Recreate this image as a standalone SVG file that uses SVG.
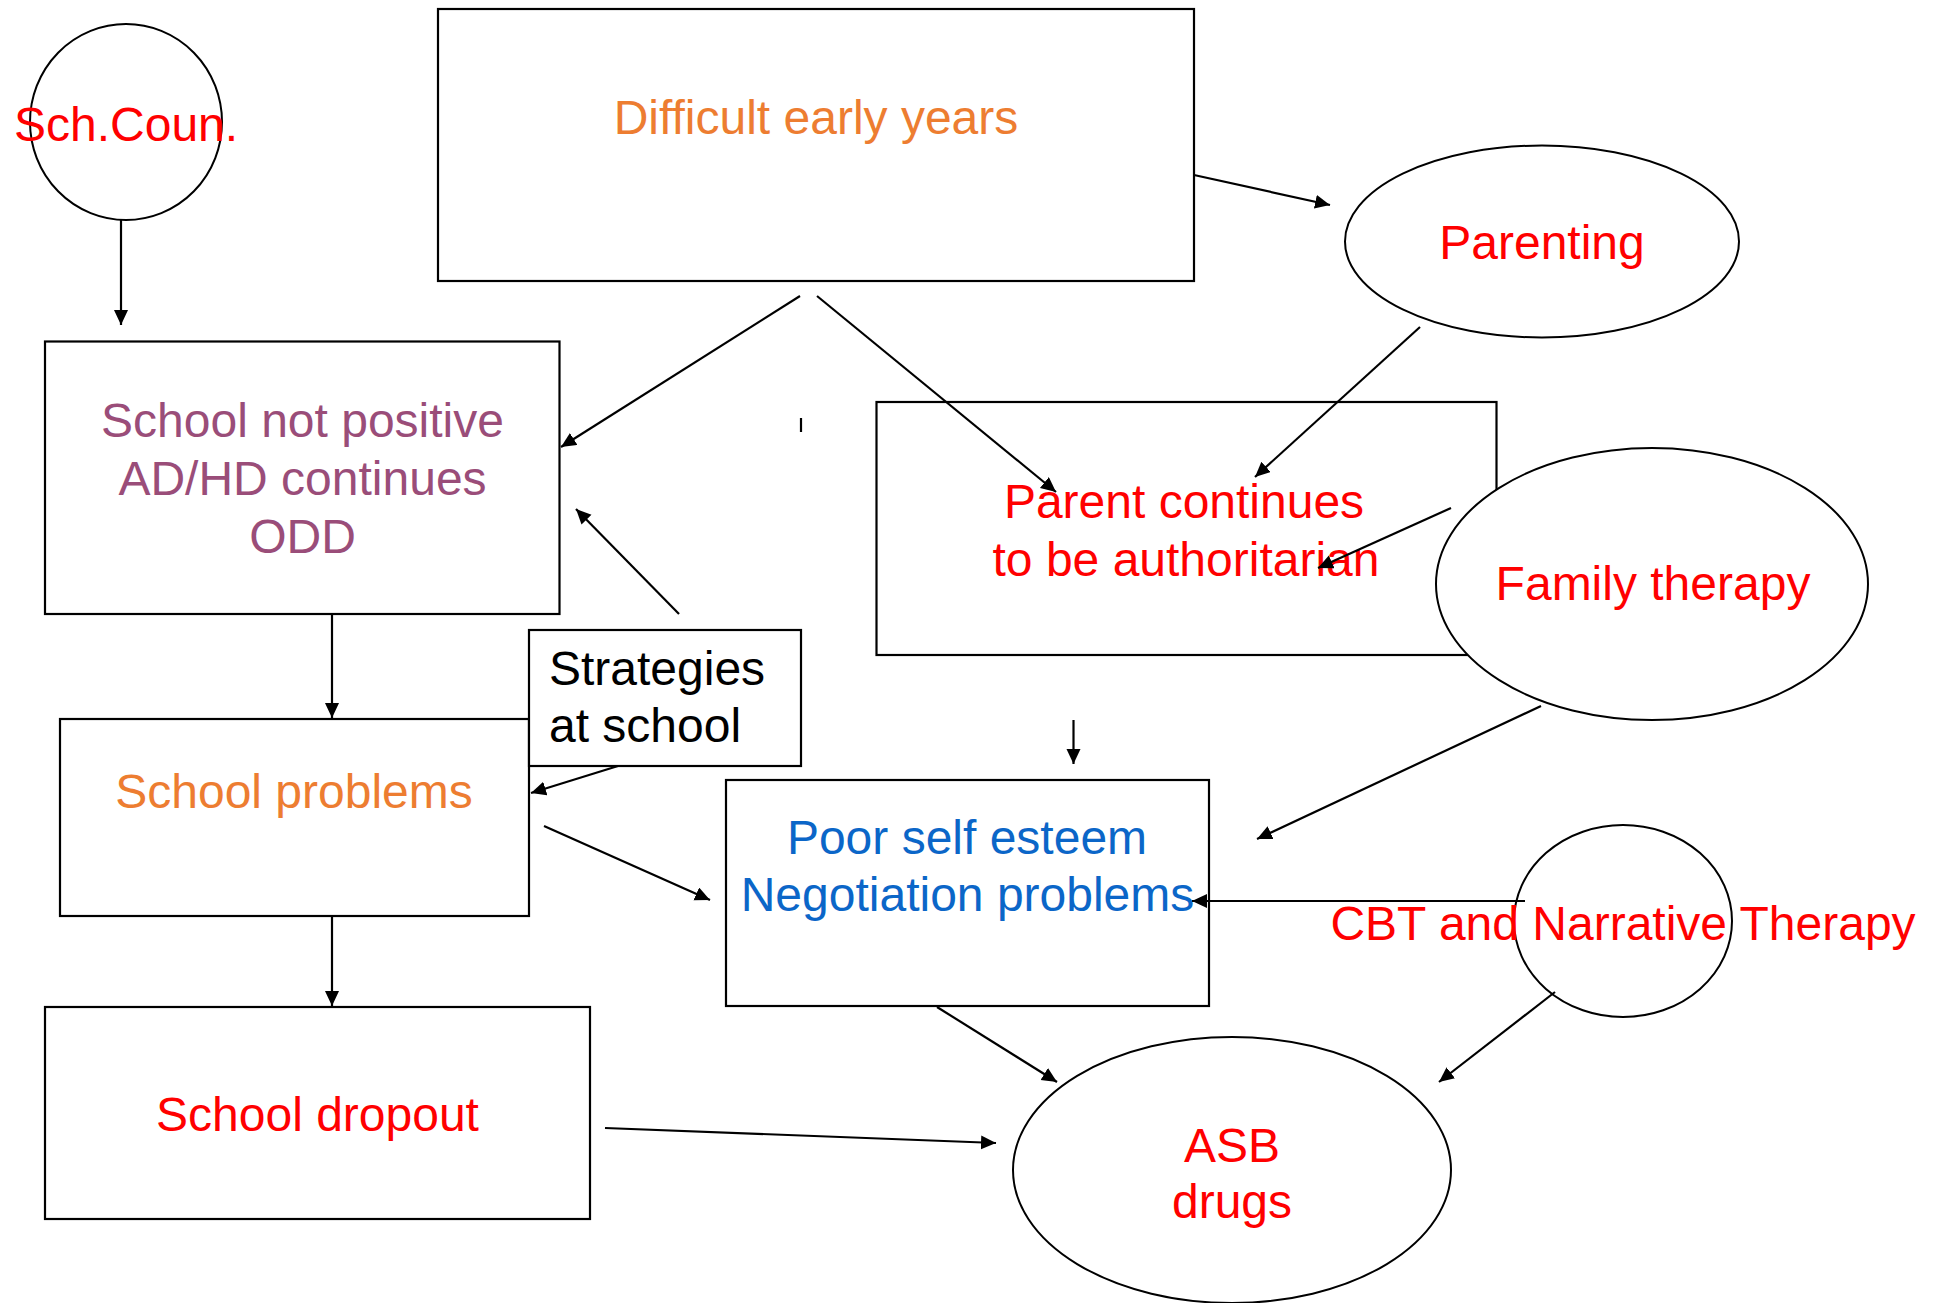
<svg xmlns="http://www.w3.org/2000/svg" width="1933" height="1303" viewBox="0 0 1933 1303">
<style>
.box{fill:#fff;stroke:#000;stroke-width:2.2}
.ell{fill:#fff;stroke:#000;stroke-width:2}
.t{font-family:"Liberation Sans",Arial,sans-serif;font-size:48px}
.c{text-anchor:middle}
.red{fill:#ff0000}
.org{fill:#ed7d31}
.pur{fill:#9a4d79}
.blu{fill:#0b66c8}
.blk{fill:#000}
.con line{stroke:#000;stroke-width:2.2;marker-end:url(#ah)}
</style>
<defs>
<marker id="ah" markerUnits="userSpaceOnUse" markerWidth="16" markerHeight="15" refX="15" refY="7" orient="auto">
<path d="M0,0 L15,7 L0,14 z" fill="#000"/>
</marker>
</defs>
<rect width="1933" height="1303" fill="#fff"/>

<g id="n-schcoun">
<ellipse class="ell" cx="126" cy="122" rx="96" ry="98"/>
<text class="t red" x="14" y="141">Sch.Coun.</text>
</g>

<g id="n-difficult">
<rect class="box" x="438" y="9" width="756" height="272"/>
<text class="t org c" x="816" y="134">Difficult early years</text>
</g>

<g id="n-parenting">
<ellipse class="ell" cx="1542" cy="241.5" rx="197" ry="96"/>
<text class="t red c" x="1542" y="259">Parenting</text>
</g>

<g id="n-schoolnot">
<rect class="box" x="45" y="341.5" width="514.5" height="272.5"/>
<text class="t pur c" x="302.5" y="437">School not positive</text>
<text class="t pur c" x="302.5" y="495">AD/HD continues</text>
<text class="t pur c" x="302.5" y="553">ODD</text>
</g>

<g id="n-parentcont">
<rect class="box" x="876.5" y="402" width="620" height="253"/>
<text class="t red c" x="1184" y="518">Parent continues</text>
<text class="t red c" x="1186" y="576">to be authoritarian</text>
</g>

<g id="n-family">
<ellipse class="ell" cx="1652" cy="584" rx="216" ry="136"/>
<text class="t red c" x="1653" y="600">Family therapy</text>
</g>

<g id="n-schoolprob">
<rect class="box" x="60" y="719" width="469" height="197"/>
<text class="t org c" x="294" y="808">School problems</text>
</g>

<g id="n-strategies">
<rect class="box" x="529" y="630" width="272" height="136"/>
<text class="t blk" x="549" y="685">Strategies</text>
<text class="t blk" x="549" y="742">at school</text>
</g>

<g id="n-poorself">
<rect class="box" x="726" y="780" width="483" height="226"/>
<text class="t blu c" x="967" y="854">Poor self esteem</text>
<text class="t blu c" x="967.5" y="911">Negotiation problems</text>
</g>

<g id="n-cbt">
<ellipse class="ell" cx="1623" cy="921" rx="109" ry="96"/>
<text class="t red c" x="1623" y="940">CBT and Narrative Therapy</text>
</g>

<g id="n-dropout">
<rect class="box" x="45" y="1007" width="545" height="212"/>
<text class="t red c" x="317.5" y="1131">School dropout</text>
</g>

<g id="n-asb">
<ellipse class="ell" cx="1232" cy="1170" rx="219" ry="133"/>
<text class="t red c" x="1232" y="1162">ASB</text>
<text class="t red c" x="1232" y="1218">drugs</text>
</g>

<g id="connectors" class="con">
<line x1="121" y1="220" x2="121" y2="325"/>
<line x1="1194" y1="175" x2="1330" y2="205"/>
<line x1="800" y1="296" x2="561" y2="447"/>
<line x1="817" y1="296" x2="1056" y2="492"/>
<line x1="1420" y1="327" x2="1255" y2="477"/>
<line x1="1451" y1="508" x2="1318" y2="568"/>
<line x1="679" y1="614" x2="576" y2="509"/>
<line x1="332" y1="614" x2="332" y2="718"/>
<line x1="618" y1="766" x2="531" y2="793"/>
<line x1="544" y1="826" x2="710" y2="900"/>
<line x1="332" y1="916" x2="332" y2="1006"/>
<line x1="1073.5" y1="720" x2="1073.5" y2="764"/>
<line x1="1541" y1="706" x2="1257" y2="839"/>
<line x1="1525" y1="901" x2="1192" y2="901"/>
<line x1="937" y1="1007" x2="1057" y2="1082"/>
<line x1="1555" y1="992" x2="1439" y2="1082"/>
<line x1="605" y1="1128" x2="996" y2="1143"/>
<line x1="801" y1="418" x2="801" y2="432" style="marker-end:none"/>
</g>
</svg>
